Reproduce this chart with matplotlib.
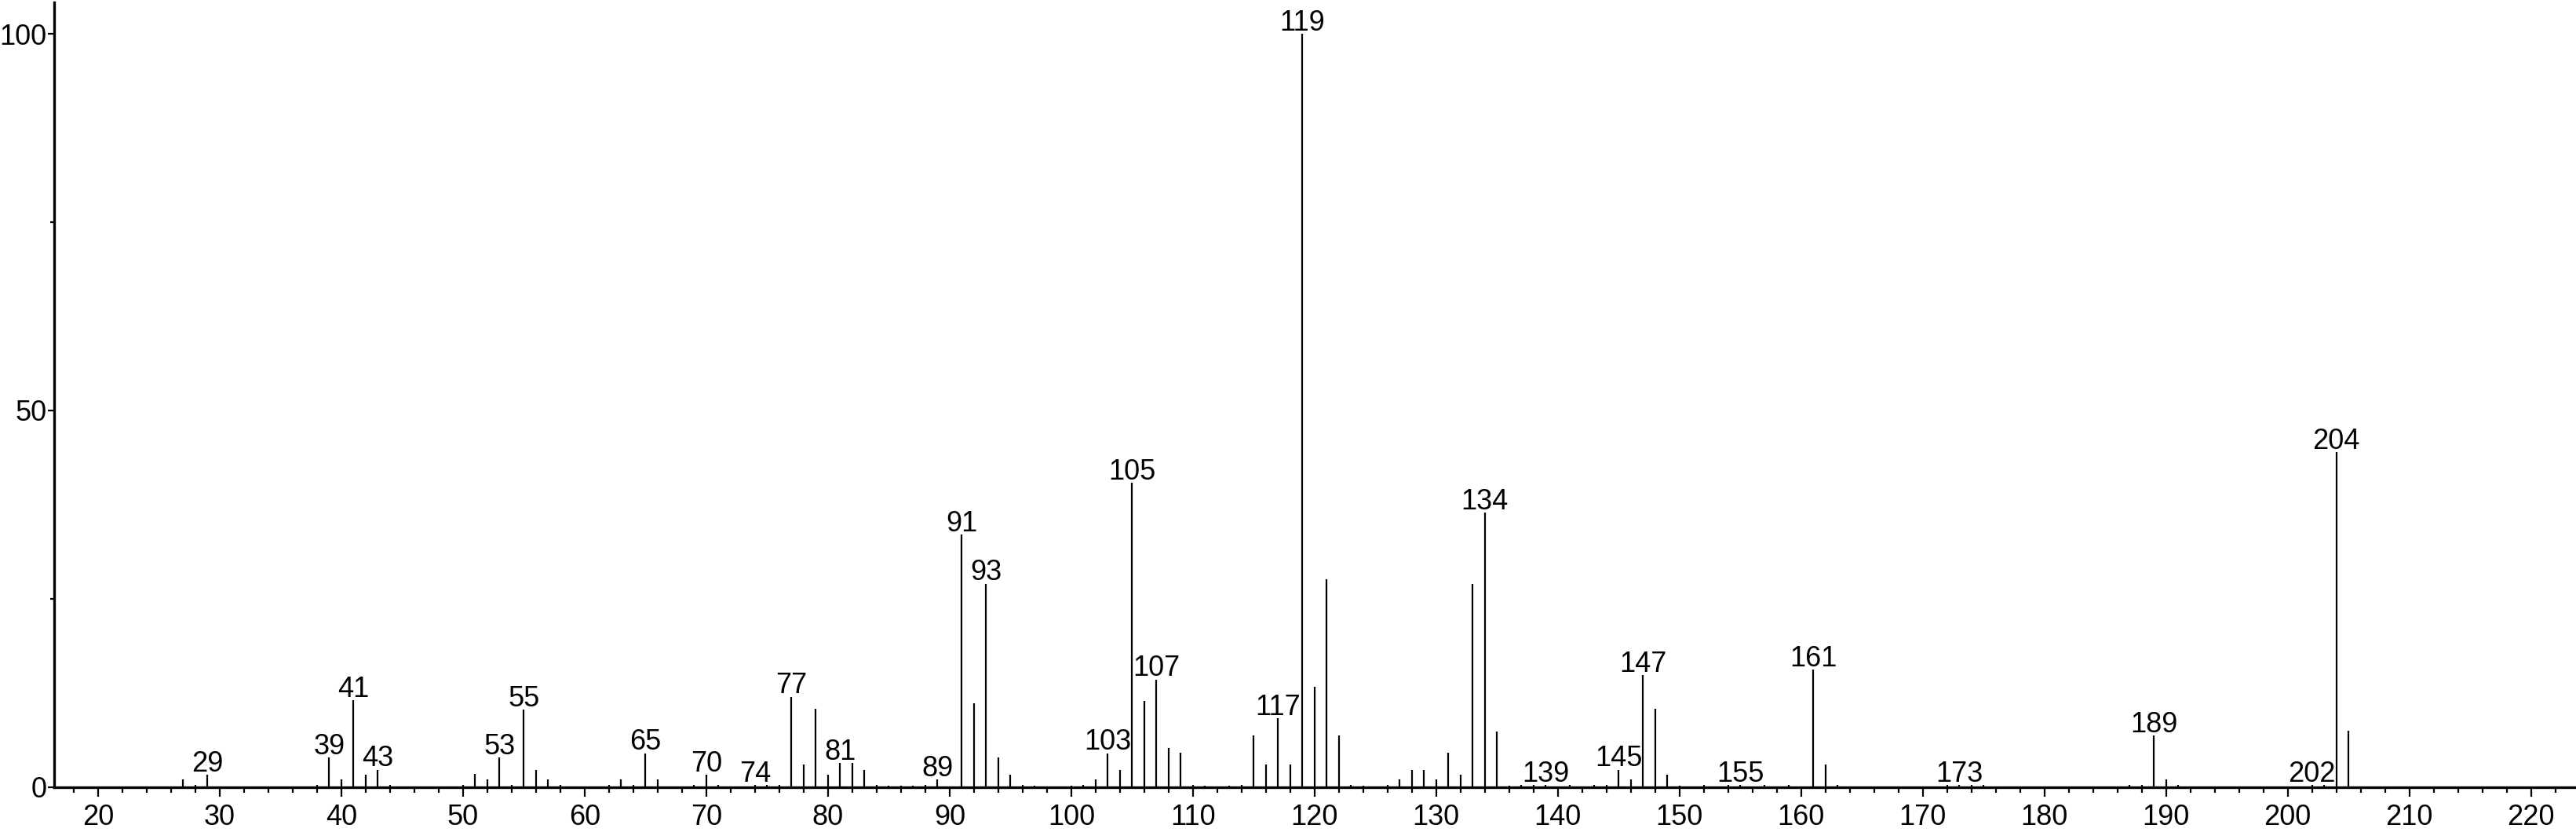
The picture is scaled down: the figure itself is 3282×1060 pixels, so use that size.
import matplotlib
matplotlib.use("Agg")
import matplotlib.pyplot as plt
from matplotlib.ticker import MultipleLocator

plt.rcParams['font.family'] = ['Liberation Sans', 'DejaVu Sans']

# m/z values and relative intensities
mz = [27, 28, 29, 38, 39, 40, 41, 42, 43, 44,
      50, 51, 52, 53, 54, 55, 56, 57, 58, 62,
      63, 64, 65, 66, 69, 70, 71, 74, 75, 76,
      77, 78, 79, 80, 81, 82, 83, 84, 85, 86,
      87, 88, 89, 91, 92, 93, 94, 95, 96, 97,
      100, 101, 102, 103, 104, 105, 106, 107, 108, 109,
      110, 111, 113, 114, 115, 116, 117, 118, 119, 120,
      121, 122, 123, 124, 126, 127, 128, 129, 130, 131,
      132, 133, 134, 135, 136, 137, 138, 139, 141, 143,
      144, 145, 146, 147, 148, 149, 150, 152, 154, 155,
      157, 159, 161, 162, 163, 172, 173, 174, 175, 187,
      188, 189, 190, 191, 202, 203, 204, 205]
intensity = [1.0, 0.3, 1.6, 0.3, 3.9, 1.0, 11.5, 1.6, 2.3, 0.3,
             0.3, 1.7, 1.0, 3.9, 0.3, 10.3, 2.3, 1.0, 0.3, 0.3,
             1.0, 0.3, 4.5, 1.0, 0.3, 1.6, 0.3, 0.3, 0.3, 0.3,
             12.0, 3.0, 10.4, 1.6, 3.2, 3.2, 2.3, 0.3, 0.2, 0.2,
             0.2, 0.3, 1.0, 33.5, 11.1, 27.0, 3.9, 1.6, 0.3, 0.2,
             0.2, 0.3, 1.0, 4.5, 2.3, 40.4, 11.4, 14.3, 5.2, 4.6,
             0.3, 0.2, 0.2, 0.3, 6.8, 3.0, 9.1, 3.0, 100.0, 13.3,
             27.6, 6.8, 0.3, 0.2, 0.3, 1.0, 2.3, 2.3, 1.0, 4.6,
             1.6, 27.0, 36.4, 7.4, 0.2, 0.3, 0.3, 0.3, 0.3, 0.3,
             0.3, 2.3, 1.0, 14.9, 10.4, 1.6, 0.2, 0.3, 0.3, 0.3,
             0.3, 0.3, 15.6, 3.0, 0.3, 0.3, 0.3, 0.3, 0.3, 0.3,
             0.3, 6.8, 1.0, 0.3, 0.3, 0.3, 44.5, 7.5]

# peaks that carry a label
labelled = [29, 39, 41, 43, 53, 55, 65, 70, 74, 77, 81, 89, 91, 93, 103,
            105, 107, 117, 119, 134, 139, 145, 147, 155, 161, 173, 189, 202, 204]

x_ticks = list(range(20, 221, 10))
y_ticks = [0, 50, 100]

W, H = 3282, 1060
fig = plt.figure(figsize=(W / 100, H / 100), dpi=100)
ax = fig.add_axes([69 / W, 57.3 / H, 1 - 69 / W, (1002.7 - 3) / H])

ax.vlines(mz, 0, intensity, color="black", linewidth=1.6)

peak = dict(zip(mz, intensity))
for m in labelled:
    ax.annotate(str(m), (m, peak[m]), xytext=(0, 3), textcoords="offset points",
                ha="center", va="baseline", fontsize=26)

ax.set_xlim(16.39, 223.7)
ax.set_ylim(0, 104.2)
ax.set_xticks(x_ticks)
ax.set_yticks(y_ticks)
ax.xaxis.set_minor_locator(MultipleLocator(2))
ax.yaxis.set_minor_locator(MultipleLocator(25))
ax.tick_params(axis="both", which="major", labelsize=26, width=1.6, color="black")
ax.tick_params(axis="x", which="major", length=8.6, pad=7)
ax.tick_params(axis="x", which="minor", length=5, width=1.6)
ax.tick_params(axis="y", which="major", length=5.5, pad=1.5)
ax.tick_params(axis="y", which="minor", length=3.5, width=1.6)

for side in ("top", "right"):
    ax.spines[side].set_visible(False)
for side in ("left", "bottom"):
    ax.spines[side].set_linewidth(2.4)

fig.savefig("out.png", dpi=100)
